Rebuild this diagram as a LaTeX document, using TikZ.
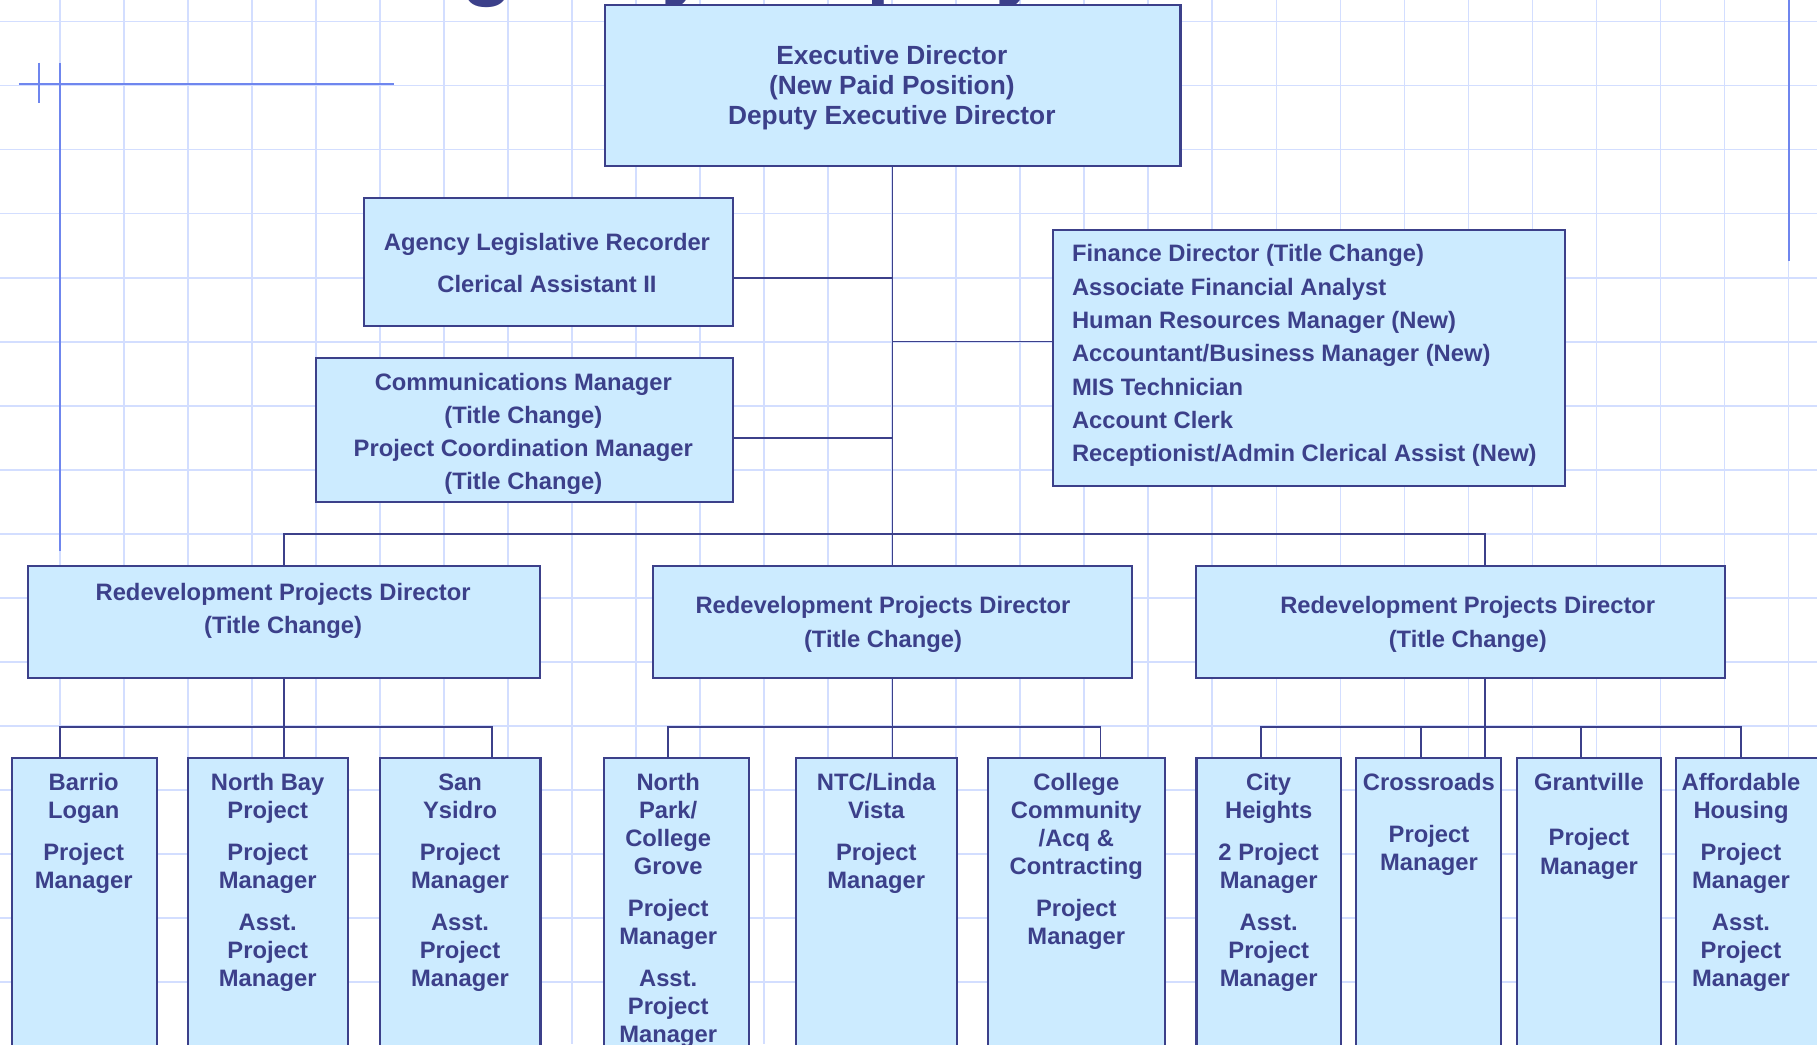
\documentclass[tikz,border=0pt]{standalone}
\usepackage{fontspec}
\setmainfont{Liberation Sans}
\definecolor{navy}{HTML}{3C408A}
\definecolor{boxfill}{HTML}{CCEBFF}
\definecolor{gridc}{HTML}{D3DEFF}
\definecolor{decor}{HTML}{6F86EE}
\tikzset{
  orgbox/.style={rectangle, draw=navy, fill=boxfill, line width=1.8pt, inner sep=0pt, outer sep=0pt},
  conn/.style={draw=navy, line width=1.5pt},
  gridline/.style={draw=gridc, line width=1.3pt},
  decorline/.style={draw=decor, line width=1.8pt},
  lbl/.style={text=navy, font=\bfseries\fontsize{20.5}{24.2}\selectfont, inner sep=0pt, outer sep=0pt, align=center, anchor=north},
  biglbl/.style={lbl, font=\bfseries\fontsize{22.7}{25.75}\selectfont},
}
\begin{document}
\begin{tikzpicture}[x=1pt,y=-1pt]
\useasboundingbox (0,0) rectangle (1568,901);
\clip (0,0) rectangle (1568,901);
\fill[white] (0,0) rectangle (1568,901);
% grid
\foreach \i in {0,...,27} \draw[gridline] ({51.6+55.25*\i},0) -- ({51.6+55.25*\i},901);
\foreach \j in {0,...,16} \draw[gridline] (0,{18.7+55.25*\j}) -- (1568,{18.7+55.25*\j});
% decoration lines
\draw[decorline] (51.6,54.7) -- (51.6,475.2);
\draw[decorline] (16.2,72.5) -- (339.8,72.5);
\draw[decorline] (33.9,54) -- (33.9,89.2);
\draw[decorline] (1543.5,0) -- (1543.5,225);
% clipped title
\node[text=navy, font=\bfseries\fontsize{74}{80}\selectfont, anchor=base west, inner sep=0pt] (title) at (344.6,-9.2) {Agency Employees};

% boxes
\node[orgbox, minimum width=497, minimum height=138.7] (exec) at (770.2,73.65) {};
\node[orgbox, minimum width=318.2, minimum height=110.5] (agency) at (473.2,225.85) {};
\node[orgbox, minimum width=359.6, minimum height=124.2] (comms) at (452.5,370.8) {};
\node[orgbox, minimum width=442.2, minimum height=220.6] (finance) at (1129.6,308.8) {};
\node[orgbox, minimum width=442.2, minimum height=96.4] (dirL) at (245,536.6) {};
\node[orgbox, minimum width=414, minimum height=96.5] (dirC) at (770.2,536.65) {};
\node[orgbox, minimum width=456.4, minimum height=97] (dirR) at (1260.5,536.6) {};
\node[orgbox, minimum width=124.8, minimum height=306] (barrio) at (72.7,807) {};
\node[orgbox, minimum width=138.5, minimum height=306] (nbay) at (231.35,807) {};
\node[orgbox, minimum width=138.5, minimum height=306] (sysidro) at (397.15,807) {};
\node[orgbox, minimum width=125.3, minimum height=306] (npark) at (583.65,807) {};
\node[orgbox, minimum width=139, minimum height=306] (ntc) at (756.4,807) {};
\node[orgbox, minimum width=152.8, minimum height=306] (college) at (929.2,807) {};
\node[orgbox, minimum width=124.9, minimum height=306] (city) at (1094.95,807) {};
\node[orgbox, minimum width=124.9, minimum height=306] (cross) at (1232.95,807) {};
\node[orgbox, minimum width=124.5, minimum height=306] (grant) at (1371.15,807) {};
\node[orgbox, minimum width=124.8, minimum height=306] (afford) at (1509,807) {};

% texts
\node[biglbl] (exec-t) at (769.6,37.5) {\strut Executive Director\\(New Paid Position)\\Deputy Executive Director};
\node[lbl] (agency-t) at (472,199.4) {\strut Agency Legislative Recorder\\[11.8pt]Clerical Assistant II};
\node[lbl] (comms-t) at (451.6,319.7) {\strut Communications Manager\\[4.4pt](Title Change)\\[4.4pt]Project Coordination Manager\\[4.4pt](Title Change)};
\node[lbl, align=left, anchor=north west] (finance-t) at (925.1,208.9) {\strut Finance Director (Title Change)\\[4.6pt]Associate Financial Analyst\\[4.6pt]Human Resources Manager (New)\\[4.6pt]Accountant/Business Manager (New)\\[4.6pt]MIS Technician\\[4.6pt]Account Clerk\\[4.6pt]Receptionist/Admin Clerical Assist (New)};
\node[lbl] (dirL-t) at (244.3,500.9) {\strut Redevelopment Projects Director\\[4.5pt](Title Change)};
\node[lbl] (dirC-t) at (762,512.4) {\strut Redevelopment Projects Director\\[5.1pt](Title Change)};
\node[lbl] (dirR-t) at (1266.6,512.4) {\strut Redevelopment Projects Director\\[5.1pt](Title Change)};

\node[lbl] (barrio-t) at (72.2,665.4) {\strut Barrio\\Logan\\[11.8pt]Project\\Manager};
\node[lbl] (nbay-t) at (231,665.4) {\strut North Bay\\Project\\[11.8pt]Project\\Manager\\[11.8pt]Asst.\\Project\\Manager};
\node[lbl] (sysidro-t) at (397,665.4) {\strut San\\Ysidro\\[11.8pt]Project\\Manager\\[11.8pt]Asst.\\Project\\Manager};
\node[lbl] (npark-t) at (576.6,665.4) {\strut North\\Park/\\College\\Grove\\[11.8pt]Project\\Manager\\[11.8pt]Asst.\\Project\\Manager};
\node[lbl] (ntc-t) at (756.2,665.4) {\strut NTC/Linda\\Vista\\[11.8pt]Project\\Manager};
\node[lbl] (college-t) at (928.8,665.4) {\strut College\\Community\\/Acq \&\\Contracting\\[11.8pt]Project\\Manager};
\node[lbl] (city-t) at (1094.8,665.4) {\strut City\\Heights\\[11.8pt]2 Project\\Manager\\[11.8pt]Asst.\\Project\\Manager};
\node[lbl] (cross-t) at (1233.1,665.4) {\strut Crossroads\\[20.7pt]Project\\Manager};
\node[lbl] (grant-t) at (1371.2,665.4) {\strut Grantville\\[23.5pt]Project\\Manager};
\node[lbl] (afford-t) at (1502.4,665.4) {\strut Affordable\\Housing\\[11.8pt]Project\\Manager\\[11.8pt]Asst.\\Project\\Manager};

% connector anchor points
\coordinate (agencyR) at (632.3,239.6);
\coordinate (commsR) at (632.3,377.7);
\coordinate (finL) at (908.5,294.8);
\coordinate (busU) at (770.2,460.8);
\coordinate (dirRtop) at (1281.2,488.1);
\coordinate (dirRbot) at (1281.2,585.1);
\coordinate (busB) at (0,627.1);
\coordinate (barrioT) at (51.9,654);
\coordinate (syT) at (424.8,654);
\coordinate (nparkT) at (576.7,654);
\coordinate (collT) at (949.6,654);
\coordinate (cityT) at (1088,654);
\coordinate (crossT) at (1226.2,654);
\coordinate (grantT) at (1364.6,654);
\coordinate (affT) at (1502.1,654);

% connectors
\draw[conn] (exec.south) -- (dirC.north);
\draw[conn] (agencyR) -- (agencyR -| exec.south);
\draw[conn] (commsR) -- (commsR -| exec.south);
\draw[conn] (finL) -- (finL -| exec.south);
\draw[conn] (dirL.north) -- (dirL.north |- busU) -- (dirRtop |- busU) -- (dirRtop);

\draw[conn] (dirL.south) -- (dirL.south |- nbay.north);
\draw[conn] (barrioT) -- (barrioT |- busB) -- (syT |- busB) -- (syT);

\draw[conn] (dirC.south) -- (dirC.south |- ntc.north);
\draw[conn] (nparkT) -- (nparkT |- busB) -- (collT |- busB) -- (collT);

\draw[conn] (dirRbot) -- (dirRbot |- cross.north);
\draw[conn] (cityT) -- (cityT |- busB) -- (affT |- busB) -- (affT);
\draw[conn] (crossT) -- (crossT |- busB);
\draw[conn] (grantT) -- (grantT |- busB);
\end{tikzpicture}
\end{document}
